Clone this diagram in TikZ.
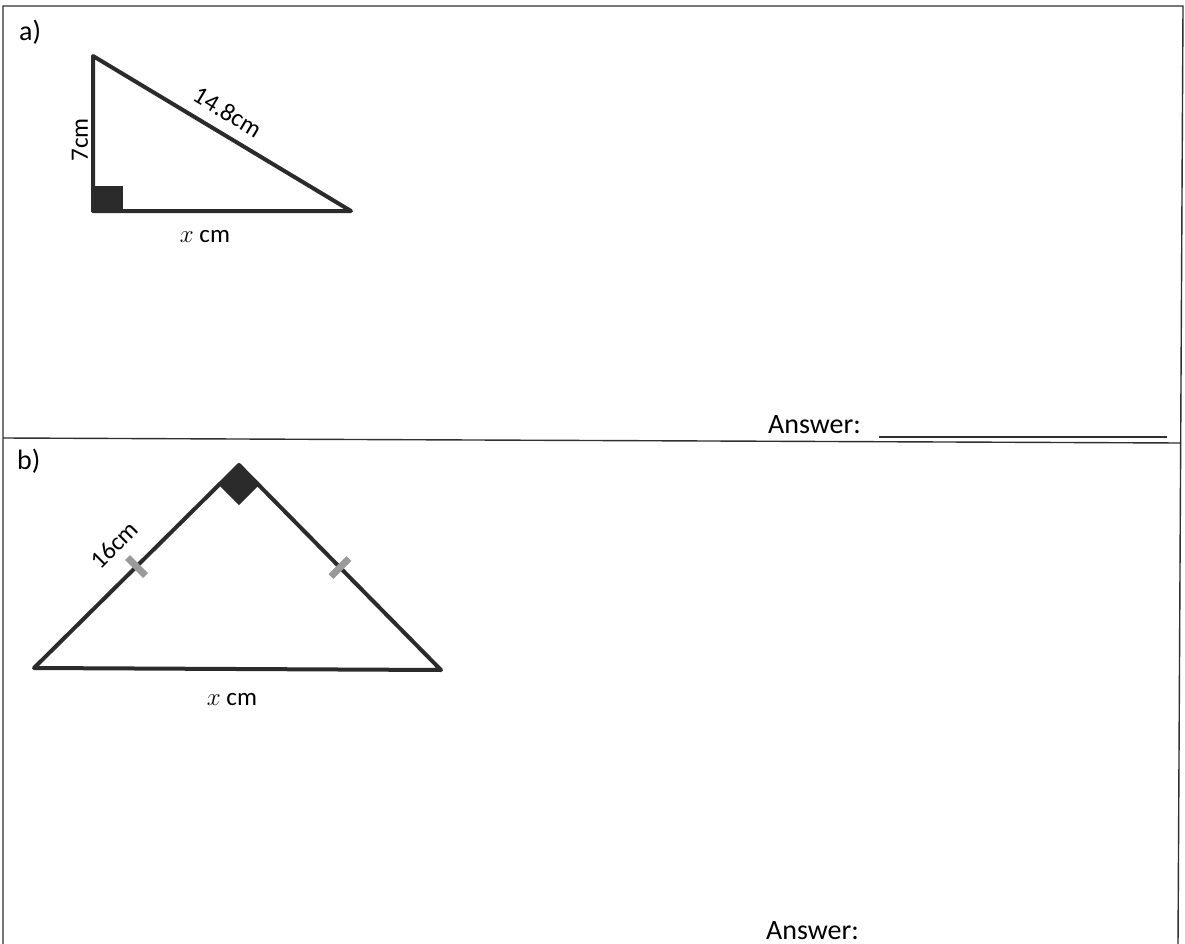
\documentclass[tikz,border=0pt]{standalone}
\usepackage{fontspec}
\setmainfont{Carlito}
\usetikzlibrary{calc}
\definecolor{tri}{HTML}{2B2B2B}
\definecolor{tickc}{HTML}{9A9A9A}
\definecolor{framec}{HTML}{303030}
\begin{document}
\begin{tikzpicture}[x=1pt,y=-1pt,
  edge/.style={line width=4pt, draw=tri, line join=round, line cap=round},
  framel/.style={line width=1.4pt, draw=framec},
  lbl/.style={font=\fontsize{25}{28}\selectfont, inner sep=0pt, text=black},
  part/.style={font=\fontsize{28}{32}\selectfont, inner sep=0pt, anchor=west},
  ans/.style={font=\fontsize{28}{32}\selectfont, inner sep=0pt, anchor=base west},
  tickm/.style={line width=7pt, draw=tickc}]
\useasboundingbox (0,0) rectangle (1185,944);
\fill[white] (0,0) rectangle (1185,944);
% frame
\coordinate (TL) at (3,6);
\coordinate (TR) at (1183,6);
\coordinate (BL) at (3,944);
\coordinate (BR) at (1178,944);
\coordinate (ML) at (3,438);
\coordinate (MR) at (1181,443);
\draw[framel] (BL) -- (TL) -- (TR) -- (BR);
\draw[framel] (ML) -- (MR);
% part a
\node[part] (pa) at (19,32) {a)};
\coordinate (A1) at (93,56);
\coordinate (A2) at (93,211);
\coordinate (A3) at (351,211);
\fill[tri] (A2) rectangle (123,186);
\draw[edge] (A1) -- (A2) -- (A3) -- cycle;
\node[lbl, rotate=90] (l7) at (80,140) {7cm};
\node[lbl, rotate=-31] (l148) at (228,112) {14.8cm};
\node[lbl] (lxa) at (205,237) {$x$ cm};
\node[ans] (ansa) at (768,433) {Answer:};
\coordinate (UL1) at (879,437);
\coordinate (UL2) at (1167,437);
\draw[line width=1.2pt, draw=framec] (UL1) -- (UL2);
% part b
\node[part] (pb) at (17,461) {b)};
\coordinate (B1) at (239,465);
\coordinate (B2) at (34,668);
\coordinate (B3) at (441,670);
\fill[tri] (B1) -- ++(-20,20) -- ++(20,20) -- ++(20,-20) -- cycle;
\draw[edge] (B1) -- (B2) -- (B3) -- cycle;
\coordinate (M1) at ($(B1)!0.5!(B2)$);
\coordinate (M2) at ($(B1)!0.5!(B3)$);
\draw[tickm] ($(M1)+(-9,-9)$) -- ($(M1)+(9,9)$);
\draw[tickm] ($(M2)+(-9,9)$) -- ($(M2)+(9,-9)$);
\node[lbl, rotate=45] (l16) at (114,545) {16cm};
\node[lbl] (lxb) at (232,700) {$x$ cm};
\node[ans] (ansb) at (766,939) {Answer:};
\end{tikzpicture}
\end{document}
